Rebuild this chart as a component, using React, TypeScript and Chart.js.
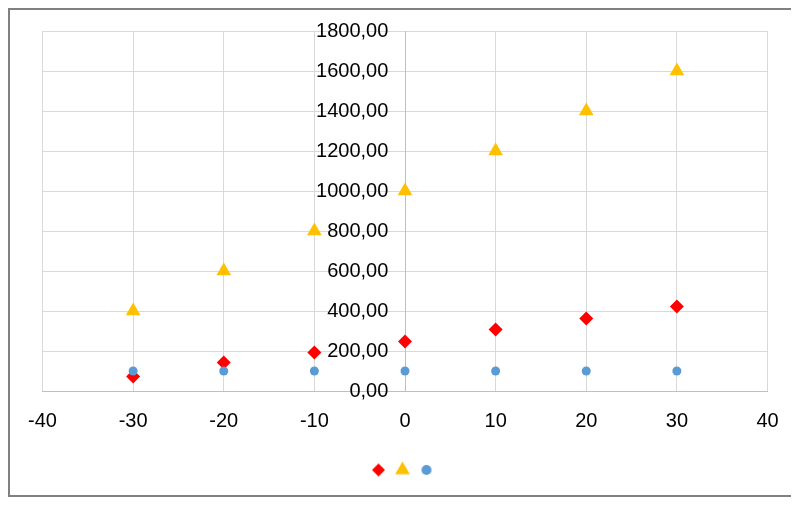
import { useEffect, useRef } from "react";
import { Chart, registerables } from "chart.js";
import { drawPoint } from "chart.js/helpers";

Chart.register(...registerables);

const xValues = [-30, -20, -10, 0, 10, 20, 30];
const diamondValues = [72, 142, 192, 247, 308, 362, 423];
const triangleValues = [400, 600, 800, 1000, 1200, 1400, 1600];
const circleValues = [100, 100, 100, 100, 100, 100, 100];

const toPoints = (ys: number[]) => ys.map((y, i) => ({ x: xValues[i], y }));

// y labels sit left of the x=0 axis; trailing spaces give the gap Chart.js padding won't
const yLabel = (v: number) => v.toFixed(2).replace(".", ",") + "   ";

// small bitmap of a marker so each legend entry can have its own size
const makeIcon = (pointStyle: string, radius: number, color: string) => {
    const c = document.createElement("canvas");
    const size = Math.ceil(radius * 2 + 2);
    c.width = size;
    c.height = size;
    const g = c.getContext("2d");
    if (g) {
        g.fillStyle = color;
        drawPoint(g, { pointStyle: pointStyle as any, radius, rotation: 0, borderWidth: 0 }, size / 2, size / 2);
    }
    return c;
};

const App = () => {
    const chartRef = useRef<HTMLCanvasElement | null>(null);
    const chartInstanceRef = useRef<Chart | null>(null);

    useEffect(() => {
        if (!chartRef.current) return;
        const ctx = chartRef.current.getContext("2d");
        if (!ctx) return;
        if (chartInstanceRef.current) chartInstanceRef.current.destroy();

        Chart.defaults.font.family = "'Liberation Sans', Arial, sans-serif";

        // same order as the datasets
        const legendIcons = [
            makeIcon("circle", 5, "#5B9BD5"),
            makeIcon("triangle", 8.5, "#FFC000"),
            makeIcon("rectRot", 6.5, "#FF0000"),
        ];

        chartInstanceRef.current = new Chart(ctx, {
            type: "scatter",
            data: {
                // blue first so it is painted last (on top); legend is reversed
                datasets: [
                    {
                        label: "",
                        data: toPoints(circleValues),
                        pointStyle: "circle",
                        pointRadius: 4.5,
                        pointHoverRadius: 4.5,
                        backgroundColor: "#5B9BD5",
                        borderColor: "#5B9BD5",
                        borderWidth: 0,
                    },
                    {
                        label: "",
                        data: toPoints(triangleValues),
                        pointStyle: "triangle",
                        pointRadius: 8.5,
                        pointHoverRadius: 8.5,
                        backgroundColor: "#FFC000",
                        borderColor: "#FFC000",
                        borderWidth: 0,
                    },
                    {
                        label: "",
                        data: toPoints(diamondValues),
                        pointStyle: "rectRot",
                        pointRadius: 7,
                        pointHoverRadius: 7,
                        backgroundColor: "#FF0000",
                        borderColor: "#FF0000",
                        borderWidth: 0,
                    },
                ],
            },
            options: {
                animation: false,
                responsive: true,
                maintainAspectRatio: false,
                layout: {
                    padding: { left: 32.5, right: 28.5, top: 21, bottom: 10 },
                },
                plugins: {
                    tooltip: { enabled: false },
                    legend: {
                        position: "bottom",
                        reverse: true,
                        labels: {
                            usePointStyle: true,
                            boxWidth: 10,
                            boxHeight: 10,
                            padding: 9,
                            font: { size: 10 },
                            generateLabels: (chart) =>
                                Chart.defaults.plugins.legend.labels
                                    .generateLabels(chart)
                                    .map((item) => ({
                                        ...item,
                                        pointStyle: legendIcons[item.datasetIndex ?? 0],
                                    })),
                        },
                    },
                },
                scales: {
                    x: {
                        type: "linear",
                        min: -40,
                        max: 40,
                        afterFit: (scale) => {
                            scale.height += 4;
                        },
                        ticks: {
                            stepSize: 10,
                            color: "#000000",
                            padding: 17,
                            font: { size: 20, lineHeight: 1.35 },
                        },
                        grid: { color: "#D9D9D9", drawTicks: false },
                        border: { color: "#BFBFBF" },
                    },
                    y: {
                        type: "linear",
                        position: { x: 0 },
                        min: 0,
                        max: 1800,
                        ticks: {
                            stepSize: 200,
                            color: "#000000",
                            font: { size: 20 },
                            callback: (value) => yLabel(Number(value)),
                        },
                        grid: { color: "#D9D9D9", drawTicks: false },
                        border: { color: "#BFBFBF" },
                    },
                },
            },
        });

        return () => {
            if (chartInstanceRef.current) {
                chartInstanceRef.current.destroy();
                chartInstanceRef.current = null;
            }
        };
    }, []);

    return (
        <div
            style={{
                width: 790,
                height: 489,
                boxSizing: "border-box",
                border: "2px solid #808080",
                background: "#FFFFFF",
            }}
        >
            <div style={{ position: "relative", width: 786, height: 485 }}>
                <canvas ref={chartRef} />
            </div>
        </div>
    );
};

export default App;
